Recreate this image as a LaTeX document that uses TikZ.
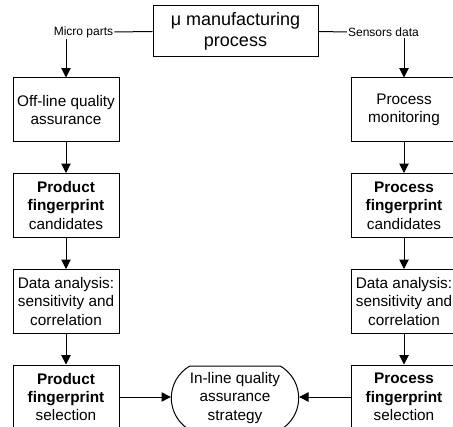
\documentclass[tikz,border=0pt]{standalone}
\usepackage{fontspec}
\setmainfont{Liberation Sans}
\usetikzlibrary{arrows.meta,shapes.misc}

\begin{document}
\begin{tikzpicture}[x=0.75pt,y=-0.75pt,line width=0.75pt,
  box/.style={draw,minimum width=79.5pt,minimum height=48pt,inner sep=1pt,align=center,font=\fontsize{11.5}{13.8}\selectfont},
  lbl/.style={inner sep=0.5pt,font=\fontsize{9}{10}\selectfont},
  arr/.style={-{Triangle[length=7pt,width=7pt]}}]
\useasboundingbox (0,0) rectangle (453,427);
%\draw[help lines,step=10](0,0)grid(453,427);
\node[draw,minimum width=123.75pt,minimum height=38.25pt,align=center,font=\fontsize{13.5}{15.5}\selectfont] (proc) at (235.5,31.5){μ manufacturing\\process};
\node[lbl] (mparts) at (83.5,32){Micro parts};
\node[lbl] (sdata) at (383.5,32){Sensors data};
\draw (proc.west)--(mparts.east);
\draw (proc.east)--(sdata.west);
% left column
\node[box] (offline) at (66,110){Off-line quality\\assurance};
\node[box] (prodcand) at (66,205.5){\textbf{Product}\\\textbf{fingerprint}\\candidates};
\node[box] (prodana) at (66,301.5){Data analysis:\\sensitivity and\\correlation};
\node[box] (prodsel) at (66,397){\textbf{Product}\\\textbf{fingerprint}\\selection};
% right column
\node[box] (monit) at (404,110){Process\\monitoring};
\node[box] (proccand) at (404,205.5){\textbf{Process}\\\textbf{fingerprint}\\candidates};
\node[box] (procana) at (404,301.5){Data analysis:\\sensitivity and\\correlation};
\node[box] (procsel) at (404,397){\textbf{Process}\\\textbf{fingerprint}\\selection};
% strategy
\node[draw,rounded rectangle,rounded rectangle arc length=120,minimum width=97.5pt,minimum height=48pt,inner sep=1pt,align=center,font=\fontsize{11.5}{13.8}\selectfont] (strat) at (235,398){In-line quality\\assurance\\strategy};
\draw[arr] (offline.north |- mparts.south)--(offline.north);
\draw[arr] (monit.north |- sdata.south)--(monit.north);
\draw[arr] (offline)--(prodcand);
\draw[arr] (prodcand)--(prodana);
\draw[arr] (prodana)--(prodsel);
\draw[arr] (monit)--(proccand);
\draw[arr] (proccand)--(procana);
\draw[arr] (procana)--(procsel);
\draw[arr] (prodsel)--(strat.west |- prodsel);
\draw[arr] (procsel)--(strat.east |- procsel);
\end{tikzpicture}
\end{document}
